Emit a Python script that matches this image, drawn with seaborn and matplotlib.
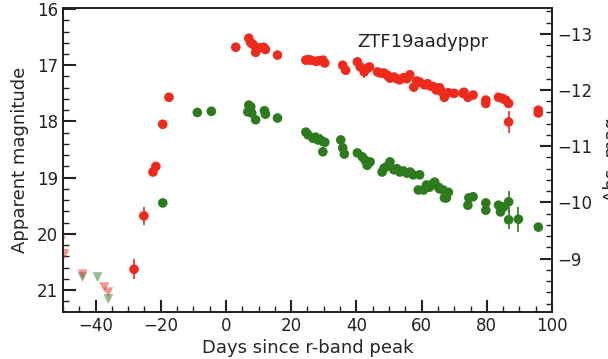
import numpy as np
import pandas as pd
import matplotlib
matplotlib.use("Agg")
import matplotlib.pyplot as plt
from matplotlib.ticker import MultipleLocator
import seaborn as sns

# ---- data ----
DM = 29.44

r_day = [-28.2, -25.2, -22.4, -21.5, -19.4, -17.5,
         3.0, 7.0, 7.6, 8.3, 9.1, 10.0, 11.5, 12.1, 15.8,
         24.5, 25.3, 26.0, 27.6, 28.6, 29.7, 30.3,
         35.8, 36.7, 40.3, 41.2, 42.4, 43.3, 44.0,
         46.5, 47.5, 48.5, 49.5, 50.3, 51.5, 52.4, 53.3, 54.5, 55.5, 56.4, 57.6, 58.5, 59.4, 60.9,
         61.8, 62.7, 63.6, 64.5, 65.5, 66.2, 67.0,
         68.2, 70.0, 72.7, 73.0, 74.2, 75.8, 79.7, 79.7, 83.6, 84.8, 85.8, 86.7, 86.7,
         95.8, 95.8]
r_mag = [20.63, 19.68, 18.90, 18.80, 18.05, 17.57,
         16.68, 16.52, 16.60, 16.63, 16.77, 16.69, 16.68, 16.72, 16.82,
         16.91, 16.90, 16.91, 16.93, 16.92, 16.91, 16.96,
         17.00, 17.09, 16.94, 17.03, 17.12, 17.06, 17.03,
         17.12, 17.14, 17.14, 17.18, 17.23, 17.21, 17.24, 17.26, 17.22, 17.24, 17.17, 17.39, 17.28, 17.30, 17.35,
         17.33, 17.37, 17.38, 17.44, 17.40, 17.47, 17.57,
         17.49, 17.50, 17.50, 17.48, 17.57, 17.53, 17.62, 17.68, 17.57, 17.59, 17.62, 17.68, 18.01,
         17.80, 17.85]
r_err = [0.18, 0.16, 0.05, 0.05, 0.03, 0.03,
         0.03, 0.03, 0.03, 0.03, 0.03, 0.03, 0.03, 0.03, 0.03,
         0.03, 0.03, 0.03, 0.03, 0.03, 0.03, 0.03,
         0.03, 0.03, 0.03, 0.03, 0.10, 0.03, 0.03,
         0.03, 0.03, 0.03, 0.03, 0.03, 0.03, 0.03, 0.03, 0.03, 0.03, 0.03, 0.09, 0.03, 0.03, 0.03,
         0.03, 0.03, 0.03, 0.03, 0.03, 0.03, 0.03,
         0.03, 0.03, 0.03, 0.03, 0.03, 0.03, 0.03, 0.03, 0.03, 0.03, 0.03, 0.03, 0.20,
         0.04, 0.04]

g_day = [-19.4, -8.8, -4.5,
         6.7, 7.0, 7.6, 7.9, 9.1, 11.8, 12.1, 15.8,
         24.5, 25.2, 26.7, 27.5, 28.2, 29.0, 29.7, 30.3,
         35.2, 35.8, 36.3, 40.3, 41.8, 42.7, 43.3, 44.2,
         47.9, 48.5, 49.4, 50.3, 51.5, 52.4, 53.3, 54.4, 55.5, 56.5, 57.4, 59.0, 59.4, 60.6, 61.5, 62.4, 63.2, 64.0,
         65.2, 65.5, 66.6, 67.0, 67.6, 68.2,
         74.2, 74.5, 75.8, 79.7, 79.7, 83.6, 84.2, 85.2, 86.7, 86.7, 89.7, 95.8]
g_mag = [19.45, 17.84, 17.82,
         17.83, 17.71, 17.74, 17.85, 17.97, 17.81, 17.87, 17.94,
         18.19, 18.24, 18.30, 18.28, 18.33, 18.33, 18.54, 18.37,
         18.33, 18.47, 18.58, 18.56, 18.63, 18.69, 18.78, 18.72,
         18.90, 18.83, 18.80, 18.72, 18.86, 18.84, 18.90, 18.88, 18.92, 18.90, 18.95, 19.22, 18.95, 19.22, 19.13, 19.17, 19.12, 19.08,
         19.17, 19.20, 19.22, 19.36, 19.36, 19.26,
         19.49, 19.36, 19.34, 19.45, 19.58, 19.49, 19.61, 19.52, 19.43, 19.75, 19.74, 19.88]
g_err = [0.03, 0.03, 0.03,
         0.03, 0.03, 0.03, 0.03, 0.03, 0.03, 0.03, 0.03,
         0.03, 0.03, 0.03, 0.03, 0.03, 0.10, 0.05, 0.03,
         0.03, 0.03, 0.03, 0.03, 0.03, 0.03, 0.03, 0.03,
         0.03, 0.03, 0.03, 0.03, 0.03, 0.03, 0.03, 0.03, 0.08, 0.03, 0.03, 0.03, 0.03, 0.03, 0.03, 0.03, 0.03, 0.03,
         0.03, 0.03, 0.03, 0.03, 0.03, 0.03,
         0.03, 0.03, 0.03, 0.03, 0.03, 0.03, 0.03, 0.03, 0.19, 0.17, 0.22, 0.04]

# upper limits (non-detections)
rlim_day = [-50.6, -49.5, -44.0, -37.3, -36.1]
rlim_mag = [20.13, 20.36, 20.72, 20.95, 21.04]
glim_day = [-44.0, -39.4, -36.1]
glim_mag = [20.77, 20.77, 21.16]

RED = "#ee2a1d"
GREEN = "#2e7b1e"

sns.set_style("ticks")
plt.rcParams["font.family"] = ["DejaVu Sans"]

fig = plt.figure(figsize=(6.08, 3.59), dpi=100)
ax = fig.add_axes([0.1036, 0.131, 0.8043, 0.847])

df_r = pd.DataFrame({"day": r_day, "mag": r_mag, "err": r_err})
df_g = pd.DataFrame({"day": g_day, "mag": g_mag, "err": g_err})
df_rl = pd.DataFrame({"day": rlim_day, "mag": rlim_mag})
df_gl = pd.DataFrame({"day": glim_day, "mag": glim_mag})

for d, c in [(df_g, GREEN), (df_r, RED)]:
    ax.errorbar(d["day"], d["mag"], yerr=d["err"], fmt="none", ecolor=c, elinewidth=1.2, zorder=2)
    sns.scatterplot(data=d, x="day", y="mag", color=c, s=48, edgecolor="none", ax=ax, zorder=3)

sns.scatterplot(data=df_gl, x="day", y="mag", color=GREEN, marker="v", s=50, alpha=0.5,
                edgecolor="none", ax=ax, zorder=3)
sns.scatterplot(data=df_rl, x="day", y="mag", color=RED, marker="v", s=50, alpha=0.5,
                edgecolor="none", ax=ax, zorder=3)

ax.set_xlim(-50, 100)
ax.set_ylim(21.39, 15.98)
ax.xaxis.set_major_locator(MultipleLocator(20))
ax.xaxis.set_minor_locator(MultipleLocator(5))
ax.yaxis.set_major_locator(MultipleLocator(1))
ax.yaxis.set_minor_locator(MultipleLocator(0.2))
ax.tick_params(which="both", direction="in", labelsize=12, colors="#222222")
ax.tick_params(which="major", length=9, width=1.5)
ax.tick_params(which="minor", length=4.5, width=1.0)
ax.tick_params(axis="y", right=False)
ax.tick_params(axis="x", top=False)
for s in ax.spines.values():
    s.set_linewidth(1.3)
    s.set_color("#222222")
ax.set_xlabel("Days since r-band peak", fontsize=13, labelpad=3)
ax.set_ylabel("Apparent magnitude", fontsize=13, labelpad=6)

ax.text(0.601, 0.888, "ZTF19aadyppr", transform=ax.transAxes, fontsize=13,
        ha="left", va="center", color="#222222")

ax2 = ax.twinx()
lo, hi = ax.get_ylim()
ax2.set_ylim(lo - DM, hi - DM)
ax2.yaxis.set_major_locator(MultipleLocator(1))
ax2.yaxis.set_minor_locator(MultipleLocator(0.2))
ax2.tick_params(which="both", direction="in", labelsize=12, colors="#222222")
ax2.tick_params(which="major", length=9, width=1.5)
ax2.tick_params(which="minor", length=4.5, width=1.0)
ax2.set_ylabel("Abs. mag", fontsize=13, labelpad=8)
for s in ax2.spines.values():
    s.set_linewidth(1.3)
    s.set_color("#222222")

fig.savefig("out.png", dpi=100)
